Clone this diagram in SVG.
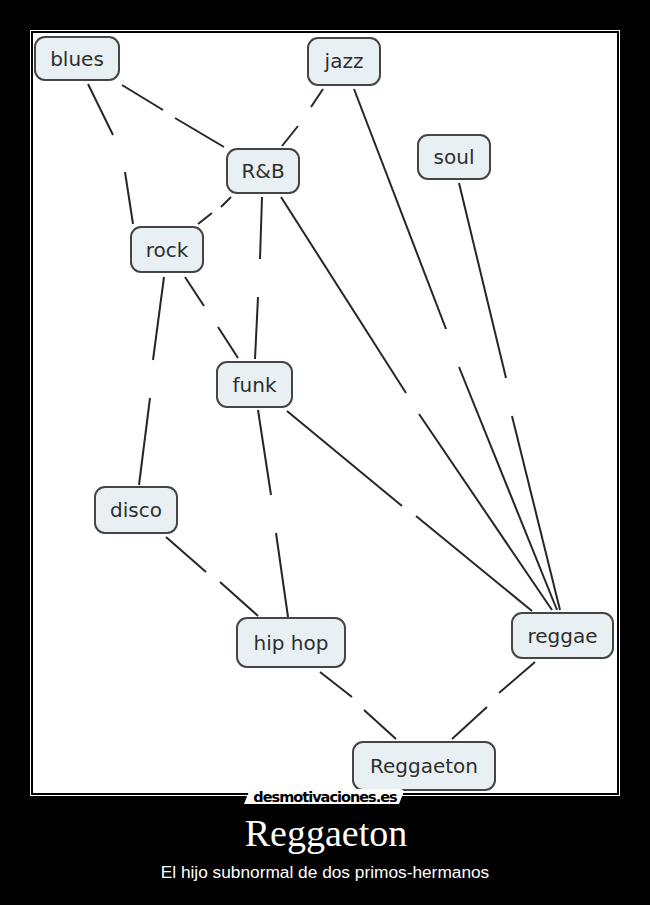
<svg xmlns="http://www.w3.org/2000/svg" width="650" height="905" viewBox="0 0 650 905">
<style>
.node rect{fill:#e9f0f3;stroke:#454545;stroke-width:2}
.node text{font-family:"DejaVu Sans",Verdana,sans-serif;font-size:20px;fill:#2e2e2e;text-anchor:middle}
#connectors line{stroke:#262626;stroke-width:2;stroke-linecap:butt}
</style>
<rect x="0" y="0" width="650" height="905" fill="#000"/>
<rect x="30.5" y="30.5" width="589" height="765" fill="none" stroke="#fff" stroke-width="1"/>
<rect x="33" y="33" width="584" height="760" fill="#fff"/>
<g id="connectors">
<!-- blues - R&B -->
<line x1="122" y1="85" x2="163" y2="110"/><line x1="175" y1="118" x2="224" y2="147"/>
<!-- blues - rock -->
<line x1="88" y1="84" x2="113" y2="135"/><line x1="125" y1="172" x2="133" y2="224"/>
<!-- jazz - R&B -->
<line x1="323" y1="89" x2="311" y2="107"/><line x1="298" y1="126" x2="282" y2="146"/>
<!-- R&B - rock -->
<line x1="231" y1="197" x2="221" y2="207"/><line x1="212" y1="213" x2="198" y2="224"/>
<!-- R&B - funk -->
<line x1="262" y1="197" x2="260" y2="259"/><line x1="258" y1="297" x2="255" y2="359"/>
<!-- rock - funk -->
<line x1="185" y1="277" x2="204" y2="306"/><line x1="218" y1="327" x2="238" y2="358"/>
<!-- rock - disco -->
<line x1="164" y1="277" x2="153" y2="360"/><line x1="150" y1="398" x2="139" y2="485"/>
<!-- funk - hip hop -->
<line x1="258" y1="410" x2="271" y2="495"/><line x1="276" y1="533" x2="288" y2="617"/>
<!-- disco - hip hop -->
<line x1="166" y1="537" x2="206" y2="572"/><line x1="220" y1="582" x2="258" y2="616"/>
<!-- funk - reggae -->
<line x1="287" y1="411" x2="402" y2="506"/><line x1="416" y1="516" x2="532" y2="611"/>
<!-- R&B - reggae -->
<line x1="281" y1="197" x2="406" y2="393"/><line x1="419" y1="414" x2="552" y2="610"/>
<!-- jazz - reggae -->
<line x1="354" y1="89" x2="446" y2="329"/><line x1="459" y1="367" x2="557" y2="610"/>
<!-- soul - reggae -->
<line x1="459" y1="183" x2="506" y2="378"/><line x1="512" y1="416" x2="560" y2="610"/>
<!-- hip hop - Reggaeton -->
<line x1="320" y1="672" x2="352" y2="697"/><line x1="364" y1="710" x2="396" y2="739"/>
<!-- reggae - Reggaeton -->
<line x1="535" y1="662" x2="499" y2="693"/><line x1="487" y1="707" x2="452" y2="739"/>
</g>
<g id="blues" class="node"><rect x="35" y="37" width="84" height="43" rx="10"/><text x="77" y="65.5">blues</text></g>
<g id="jazz" class="node"><rect x="308" y="38" width="72" height="47" rx="10"/><text x="344" y="68">jazz</text></g>
<g id="rnb" class="node"><rect x="227" y="149" width="72" height="44" rx="10"/><text x="263" y="178">R&amp;B</text></g>
<g id="soul" class="node"><rect x="418" y="135" width="72" height="44" rx="10"/><text x="454" y="164">soul</text></g>
<g id="rock" class="node"><rect x="131" y="227" width="72" height="45" rx="10"/><text x="167" y="256.5">rock</text></g>
<g id="funk" class="node"><rect x="217" y="362" width="75" height="45" rx="10"/><text x="254.5" y="391.5">funk</text></g>
<g id="disco" class="node"><rect x="95" y="487" width="82" height="46" rx="10"/><text x="136" y="517">disco</text></g>
<g id="hiphop" class="node"><rect x="237" y="618" width="108" height="49" rx="10"/><text x="291" y="649.5">hip hop</text></g>
<g id="reggae" class="node"><rect x="512" y="613" width="101" height="45" rx="10"/><text x="562.5" y="642.5">reggae</text></g>
<g id="reggaeton" class="node"><rect x="353" y="742" width="142" height="48" rx="10"/><text x="424" y="773">Reggaeton</text></g>
<path d="M244 804 L250 789 L400 789 Q405 789 403 794 L399 804 Z" fill="#fff"/>
<text x="325" y="802" font-family="'DejaVu Sans',sans-serif" font-size="14.5" font-weight="bold" fill="#000" text-anchor="middle" letter-spacing="-1">desmotivaciones.es</text>
<text x="326" y="846" font-family="'Liberation Serif',serif" font-size="38" fill="#fff" text-anchor="middle">Reggaeton</text>
<text x="325" y="878" font-family="'Liberation Sans',Arial,sans-serif" font-size="17.3" fill="#fff" text-anchor="middle">El hijo subnormal de dos primos-hermanos</text>
</svg>
